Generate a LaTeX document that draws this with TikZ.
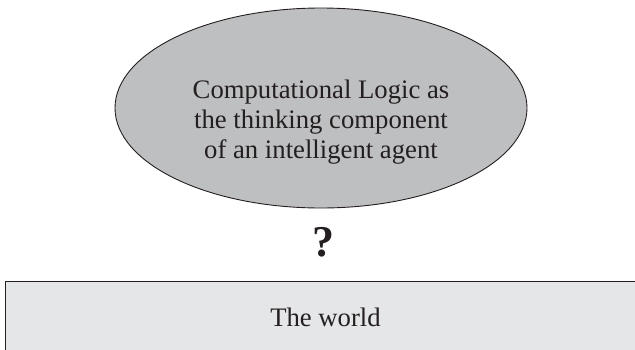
\documentclass[tikz,border=0pt]{standalone}
\usepackage{fontspec}
\setmainfont{Liberation Serif}
\usetikzlibrary{shapes.geometric, positioning}

\definecolor{mindgray}{RGB}{190,191,193}
\definecolor{worldgray}{RGB}{229,230,232}
\definecolor{inkline}{RGB}{35,31,32}

\begin{document}
\begin{tikzpicture}[
    x=1pt, y=-1pt,
    every node/.style={font=\fontsize{26.7}{30}\selectfont, text=inkline},
    mind/.style={ellipse, draw=inkline, line width=0.9pt, fill=mindgray, minimum width=412pt, minimum height=200pt, inner sep=0pt},
    world/.style={draw=inkline, line width=1pt, fill=worldgray, minimum width=640pt, minimum height=72pt, inner sep=0pt},
    qmark/.style={font=\fontsize{44}{48}\selectfont\bfseries},
  ]
  \useasboundingbox (0,0) rectangle (635,349);
  \node[mind] (cl) at (321,108) {};
  \node[align=center, yshift=-14pt] (clText) at (cl) {Computational Logic as\\the thinking component\\of an intelligent agent};
  \node[qmark] (q) at (323,242) {?};
  \node[world, anchor=north west] (w) at (5,281) {The world};
\end{tikzpicture}
\end{document}
